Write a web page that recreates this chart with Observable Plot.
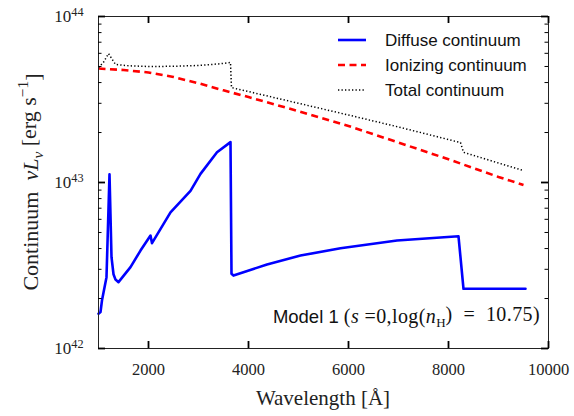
<!DOCTYPE html>
<html><head><meta charset="utf-8">
<script src="https://cdn.jsdelivr.net/npm/d3@7"></script>
<script src="https://cdn.jsdelivr.net/npm/@observablehq/plot@0.6"></script>
<style>
body{margin:0;background:#fff}
#chart{width:574px;height:416px}
</style>
</head><body><div id="chart"></div>
<script>
// ---- data (wavelength in Å, nu L_nu in erg/s) ----
const diffuseWave = [1000,1040,1070,1160,1220,1260,1300,1340,1400,1640,1840,2040,2070,2440,2840,3040,3370,3640,3660,3700,4370,5040,5840,6970,8200,8300,9540];
const diffuseLum  = [1.62e42,1.66e42,1.95e42,2.69e42,1.12e43,3.55e42,2.80e42,2.60e42,2.51e42,3.09e42,3.89e42,4.79e42,4.31e42,6.61e42,8.91e42,1.127e43,1.52e43,1.75e43,2.82e42,2.75e42,3.21e42,3.63e42,4.02e42,4.47e42,4.74e42,2.29e42,2.29e42];

const ionizingWave = [1000,1500,2000,2500,3000,3500,4000,5000,6000,7000,8000,9000,9500];
const ionizingLum  = [4.86e43,4.76e43,4.60e43,4.32e43,3.96e43,3.59e43,3.27e43,2.69e43,2.19e43,1.74e43,1.38e43,1.08e43,9.66e42];

const totalWave = [1000,1100,1200,1340,1600,2000,2500,3000,3400,3640,3660,4000,5000,6000,7000,8240,8300,9000,9500];
const totalLum  = [4.93e43,5.30e43,5.98e43,5.14e43,5.05e43,5.00e43,5.01e43,5.07e43,5.18e43,5.28e43,3.73e43,3.53e43,3.00e43,2.55e43,2.16e43,1.74e43,1.52e43,1.31e43,1.18e43];

const seriesNames = ["Diffuse continuum","Ionizing continuum","Total continuum"];
const xTicks = [2000,4000,6000,8000,10000];
const xTickLabels = ["2000","4000","6000","8000","10000"];
const yTicks = [1e42,1e43,1e44];
const yTickExps = ["42","43","44"];
const yMinor = [2e42,3e42,4e42,5e42,6e42,7e42,8e42,9e42,2e43,3e43,4e43,5e43,6e43,7e43,8e43,9e43];

const diffuse = diffuseWave.map((w,i)=>({w, L: diffuseLum[i]}));
const ionizing = ionizingWave.map((w,i)=>({w, L: ionizingLum[i]}));
const total = totalWave.map((w,i)=>({w, L: totalLum[i]}));

// ---- layout ----
const W=574, H=416, mL=98, mR=26, mT=16, mB=68;
const pw=W-mL-mR, ph=H-mT-mB;
const majL=7, minL=3.5;
const serif = "'Liberation Serif', 'DejaVu Serif', serif";
const sans = "'Liberation Sans', Arial, sans-serif";
const dashRed = "7,4.5", dashDot = "1.3,2.2";

const plot = Plot.plot({
  width: W, height: H,
  marginLeft: mL, marginRight: mR, marginTop: mT, marginBottom: mB,
  x: {domain:[1000,10000]},
  y: {type:"log", domain:[1e42,1e44]},
  style: {fontFamily: serif, background: "#fff"},
  marks: [
    Plot.line(diffuse, {x:"w", y:"L", stroke:"#0000ff", strokeWidth:2.6}),
    Plot.line(ionizing, {x:"w", y:"L", stroke:"#ff0000", strokeWidth:2.6, strokeDasharray:dashRed, strokeLinecap:"butt"}),
    Plot.line(total, {x:"w", y:"L", stroke:"#000", strokeWidth:1.5, strokeDasharray:dashDot, strokeLinecap:"butt", strokeLinejoin:"miter"}),
    Plot.frame({stroke:"#222", strokeWidth:1}),
    // inward ticks
    Plot.ruleX(xTicks, {x:d=>d, insetTop: ph-majL, stroke:"#000", strokeWidth:1.8}),
    Plot.ruleX(xTicks, {x:d=>d, insetBottom: ph-majL, stroke:"#000", strokeWidth:1.8}),
    Plot.ruleY(yTicks, {y:d=>d, insetRight: pw-majL, stroke:"#000", strokeWidth:1.8}),
    Plot.ruleY(yTicks, {y:d=>d, insetLeft: pw-majL, stroke:"#000", strokeWidth:1.8}),
    Plot.ruleY(yMinor, {y:d=>d, insetRight: pw-minL, stroke:"#000", strokeWidth:1}),
    Plot.ruleY(yMinor, {y:d=>d, insetLeft: pw-minL, stroke:"#000", strokeWidth:1}),
    Plot.axisX({ticks: xTicks, tickSize:0, tickPadding:15, label:null,
      tickFormat: d => xTickLabels[xTicks.indexOf(d)], fontSize:16.5, fill:"#222"}),
    Plot.axisY({ticks: yTicks, tickSize:0, tickPadding:15, label:null,
      tickFormat: d => "10", fontSize:17, fill:"#222"})
  ]
});
document.getElementById("chart").appendChild(plot);

const svg = d3.select(plot);
// superscripts for y tick labels
svg.selectAll('g[aria-label="y-axis tick label"] text').each(function(d,i){
  const t = d3.select(this);
  const idx = yTicks.indexOf(d);
  t.text("10");
  t.append("tspan").attr("dy","-0.5em").attr("font-size","0.72em").text(yTickExps[idx >= 0 ? idx : i]);
});

// axis labels
svg.append("text").attr("x", mL+pw/2).attr("y", 405).attr("text-anchor","middle")
  .attr("font-family", serif).attr("font-size", 21).attr("fill","#222").text("Wavelength [Å]");

const yl = svg.append("text").attr("transform", `translate(38,${mT+ph/2}) rotate(-90)`)
  .attr("text-anchor","middle").attr("font-family", serif).attr("font-size", 22).attr("fill","#222");
yl.append("tspan").text("Continuum  ");
yl.append("tspan").attr("font-style","italic").text("νL");
yl.append("tspan").attr("font-style","italic").attr("font-size","0.7em").attr("dy","0.3em").text("ν");
yl.append("tspan").attr("dy","-0.3em").text(" [erg s");
yl.append("tspan").attr("font-size","0.7em").attr("dy","-0.55em").text("−1");
yl.append("tspan").attr("dy","0.55em").text("]");

// legend
const leg = svg.append("g");
const legStyles = [
  {stroke:"#0000ff", w:2.6, dash:null},
  {stroke:"#ff0000", w:2.6, dash:dashRed},
  {stroke:"#000", w:1.5, dash:dashDot}
];
seriesNames.forEach((name,i)=>{
  const y = 40 + i*25;
  const s = legStyles[i];
  leg.append("line").attr("x1",338).attr("x2",366).attr("y1",y).attr("y2",y)
    .attr("stroke",s.stroke).attr("stroke-width",s.w).attr("stroke-dasharray",s.dash);
  leg.append("text").attr("x",385).attr("y",y).attr("dy","0.36em").attr("text-anchor","start")
    .attr("font-family",sans).attr("font-size",17).attr("fill","#111").text(name);
});

// annotation
const ann = svg.append("text").attr("x",540).attr("y",323).attr("text-anchor","end")
  .attr("fill","#111");
ann.append("tspan").attr("font-family",sans).attr("font-size",18.5).text("Model 1 ");
const ser = (txt, italic) => ann.append("tspan").attr("font-family",serif).attr("font-size",20)
  .attr("letter-spacing","0.4px")
  .attr("font-style", italic ? "italic" : "normal").text(txt);
ser("(", false); ser("s", true); ser(" =0,log(", false); ser("n", true);
ann.append("tspan").attr("font-family",serif).attr("font-size",13).attr("dy","0.3em").text("H");
ann.append("tspan").attr("font-family",serif).attr("font-size",20).attr("letter-spacing","0.4px").attr("dy","-0.3em").text(")  =  10.75)");
</script>
</body></html>
